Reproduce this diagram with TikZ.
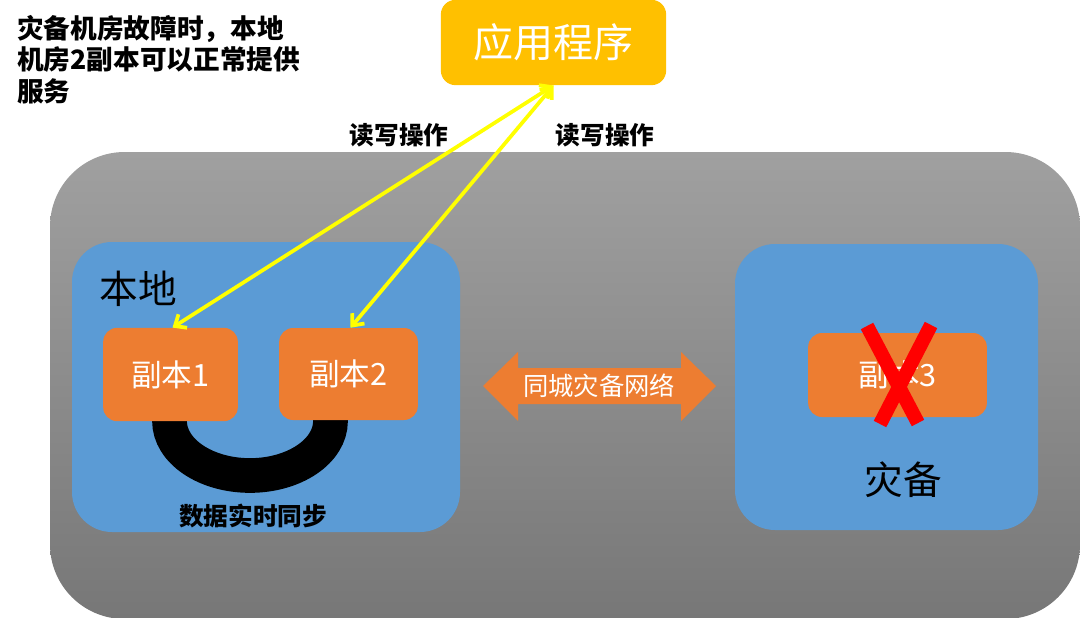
\documentclass[tikz,border=0pt]{standalone}
\usepackage{fontspec}
\setmainfont{Noto Sans CJK SC}
\usetikzlibrary{arrows.meta}
\definecolor{grayTop}{HTML}{A0A0A0}
\definecolor{grayBot}{HTML}{777777}
\definecolor{boxBlue}{HTML}{5B9BD5}
\definecolor{boxOrange}{HTML}{ED7D31}
\definecolor{appYellow}{HTML}{FFC000}
\definecolor{lineYellow}{HTML}{FFFF00}
\tikzset{
  replica/.style={draw=none,fill=boxOrange,rounded corners=10.5pt,text=white,font=\fontsize{23}{27}\selectfont,inner sep=0pt},
  site/.style={fill=boxBlue,rounded corners=30pt},
  rwlink/.style={draw=lineYellow,line width=2.8pt,{Straight Barb[length=7pt,width=12pt]}-{Straight Barb[length=7pt,width=12pt]}},
  lbl/.style={font=\fontsize{18.5}{22}\selectfont\bfseries,inner sep=0pt},
  cross/.style={draw=red,line width=10.5pt}
}
\begin{document}
\begin{tikzpicture}[x=0.75pt,y=-0.75pt]
\useasboundingbox (0,0) rectangle (1080,617);
% outer gray area
\shade[top color=grayTop,bottom color=grayBot,rounded corners=56pt] (50,152) rectangle (1080,619);
% sites
\fill[site] (72,242) rectangle (460,532);
\fill[site] (735,244) rectangle (1038,530);
% sync U
\draw[line width=26pt,black] (169.5,405) -- (169.5,421) .. controls (169.5,451.1) and (205.5,475.5) .. (250,475.5) .. controls (294.5,475.5) and (330.5,451.1) .. (330.5,421) -- (330.5,405);
% replicas
\node[replica,minimum width=101pt,minimum height=70pt] (r1) at (170.5,374.5) {副本1};
\node[replica,minimum width=104pt,minimum height=69pt] (r2) at (348.5,374) {副本2};
\node[replica,minimum width=134pt,minimum height=63pt] (r3) at (897.5,375) {副本3};
% red cross
\coordinate (xa) at (867,326); \coordinate (xb) at (918,423);
\coordinate (xc) at (931,325); \coordinate (xd) at (880,424);
\draw[cross] (xa) -- (xb);
\draw[cross] (xc) -- (xd);
% labels in sites
\node[font=\fontsize{29}{33}\selectfont,inner sep=0pt] (local) at (138,289) {本地};
\node[font=\fontsize{29}{33}\selectfont,inner sep=0pt] (dr) at (903,480) {灾备};
\node[lbl] (sync) at (253,516) {数据实时同步};
% network double arrow
\fill[boxOrange] (483,386) -- (518,352) -- (518,368) -- (681,368) -- (681,352) -- (716,386) -- (681,421) -- (681,404) -- (518,404) -- (518,421) -- cycle;
\node[text=white,font=\fontsize{19}{23}\selectfont,inner sep=0pt] (net) at (599,386) {同城灾备网络};
% application
\node[fill=appYellow,rounded corners=11pt,minimum width=169pt,minimum height=64pt,text=white,font=\fontsize{30}{35}\selectfont,inner sep=0pt] (app) at (553.5,42.5) {应用程序};
% read/write arrows
\draw[rwlink] (app.south) -- ([xshift=1.5pt]r1.north);
\draw[rwlink] (app.south) -- ([xshift=1.5pt]r2.north);
\node[lbl] (rw1) at (399,135) {读写操作};
\node[lbl] (rw2) at (605,135) {读写操作};
% note
\node[anchor=north west,align=left,inner sep=0pt,font=\fontsize{20}{23.5}\selectfont\bfseries] (note) at (17,15) {灾备机房故障时，本地\\机房2副本可以正常提供\\服务};
\end{tikzpicture}
\end{document}
